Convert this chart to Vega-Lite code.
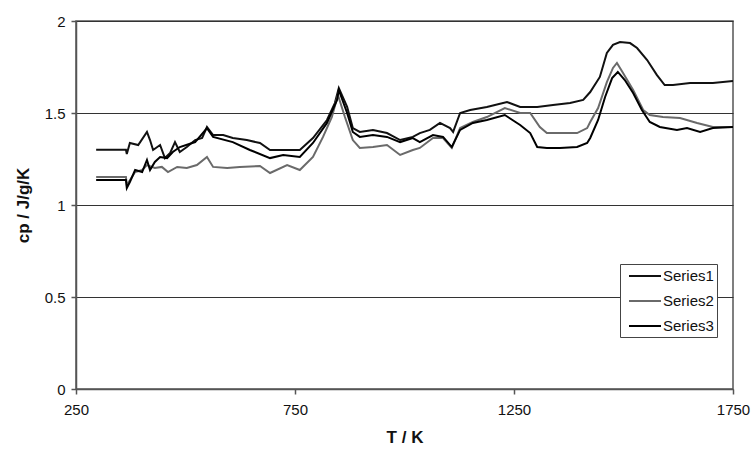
{
  "$schema": "https://vega.github.io/schema/vega-lite/v6.json",
  "width": 657,
  "height": 368,
  "autosize": {"type": "none"},
  "padding": {"left": 76, "top": 21, "right": 21, "bottom": 63},
  "background": "white",
  "config": {
    "font": "Liberation Sans",
    "view": {"stroke": "#555555", "strokeWidth": 1.5},
    "axis": {"labelFont": "Liberation Sans", "labelFontSize": 15, "labelColor": "#111111", "titleFont": "Liberation Sans", "titleFontSize": 17, "titleFontWeight": "bold", "titleColor": "#111111", "domainColor": "#555555", "domainWidth": 1.5, "tickColor": "#555555", "tickWidth": 1.5, "tickSize": 5}
  },
  "data": {"values": [
    {"s":"Series1","T":296,"cp":1.30},{"s":"Series1","T":364,"cp":1.30},{"s":"Series1","T":366,"cp":1.277},{"s":"Series1","T":373,"cp":1.337},{"s":"Series1","T":392,"cp":1.326},{"s":"Series1","T":412,"cp":1.397},{"s":"Series1","T":419,"cp":1.353},{"s":"Series1","T":426,"cp":1.299},{"s":"Series1","T":442,"cp":1.326},{"s":"Series1","T":453,"cp":1.255},{"s":"Series1","T":465,"cp":1.283},{"s":"Series1","T":476,"cp":1.342},{"s":"Series1","T":487,"cp":1.288},{"s":"Series1","T":503,"cp":1.315},{"s":"Series1","T":522,"cp":1.353},{"s":"Series1","T":538,"cp":1.364},{"s":"Series1","T":549,"cp":1.424},{"s":"Series1","T":563,"cp":1.380},{"s":"Series1","T":586,"cp":1.380},{"s":"Series1","T":608,"cp":1.364},{"s":"Series1","T":640,"cp":1.353},{"s":"Series1","T":670,"cp":1.337},{"s":"Series1","T":693,"cp":1.299},{"s":"Series1","T":723,"cp":1.299},{"s":"Series1","T":761,"cp":1.299},{"s":"Series1","T":791,"cp":1.364},{"s":"Series1","T":823,"cp":1.462},{"s":"Series1","T":841,"cp":1.554},{"s":"Series1","T":850,"cp":1.636},{"s":"Series1","T":869,"cp":1.533},{"s":"Series1","T":882,"cp":1.418},{"s":"Series1","T":898,"cp":1.397},{"s":"Series1","T":928,"cp":1.408},{"s":"Series1","T":960,"cp":1.391},{"s":"Series1","T":990,"cp":1.353},{"s":"Series1","T":1019,"cp":1.370},{"s":"Series1","T":1035,"cp":1.391},{"s":"Series1","T":1058,"cp":1.408},{"s":"Series1","T":1081,"cp":1.446},{"s":"Series1","T":1104,"cp":1.418},{"s":"Series1","T":1111,"cp":1.397},{"s":"Series1","T":1127,"cp":1.500},{"s":"Series1","T":1150,"cp":1.516},{"s":"Series1","T":1188,"cp":1.533},{"s":"Series1","T":1234,"cp":1.560},{"s":"Series1","T":1264,"cp":1.533},{"s":"Series1","T":1303,"cp":1.533},{"s":"Series1","T":1339,"cp":1.543},{"s":"Series1","T":1378,"cp":1.554},{"s":"Series1","T":1408,"cp":1.571},{"s":"Series1","T":1424,"cp":1.614},{"s":"Series1","T":1446,"cp":1.696},{"s":"Series1","T":1462,"cp":1.826},{"s":"Series1","T":1476,"cp":1.870},{"s":"Series1","T":1492,"cp":1.886},{"s":"Series1","T":1515,"cp":1.880},{"s":"Series1","T":1531,"cp":1.853},{"s":"Series1","T":1554,"cp":1.788},{"s":"Series1","T":1576,"cp":1.707},{"s":"Series1","T":1594,"cp":1.652},{"s":"Series1","T":1613,"cp":1.652},{"s":"Series1","T":1652,"cp":1.663},{"s":"Series1","T":1704,"cp":1.663},{"s":"Series1","T":1750,"cp":1.674},
    {"s":"Series2","T":296,"cp":1.152},{"s":"Series2","T":364,"cp":1.152},{"s":"Series2","T":366,"cp":1.109},{"s":"Series2","T":385,"cp":1.179},{"s":"Series2","T":401,"cp":1.190},{"s":"Series2","T":412,"cp":1.217},{"s":"Series2","T":430,"cp":1.201},{"s":"Series2","T":446,"cp":1.207},{"s":"Series2","T":460,"cp":1.179},{"s":"Series2","T":481,"cp":1.207},{"s":"Series2","T":503,"cp":1.201},{"s":"Series2","T":526,"cp":1.217},{"s":"Series2","T":549,"cp":1.261},{"s":"Series2","T":563,"cp":1.207},{"s":"Series2","T":595,"cp":1.201},{"s":"Series2","T":624,"cp":1.207},{"s":"Series2","T":670,"cp":1.212},{"s":"Series2","T":693,"cp":1.174},{"s":"Series2","T":732,"cp":1.217},{"s":"Series2","T":761,"cp":1.190},{"s":"Series2","T":791,"cp":1.261},{"s":"Series2","T":814,"cp":1.370},{"s":"Series2","T":834,"cp":1.478},{"s":"Series2","T":848,"cp":1.598},{"s":"Series2","T":864,"cp":1.478},{"s":"Series2","T":882,"cp":1.353},{"s":"Series2","T":898,"cp":1.310},{"s":"Series2","T":928,"cp":1.315},{"s":"Series2","T":960,"cp":1.326},{"s":"Series2","T":990,"cp":1.272},{"s":"Series2","T":1019,"cp":1.299},{"s":"Series2","T":1035,"cp":1.310},{"s":"Series2","T":1065,"cp":1.364},{"s":"Series2","T":1088,"cp":1.364},{"s":"Series2","T":1108,"cp":1.310},{"s":"Series2","T":1127,"cp":1.418},{"s":"Series2","T":1156,"cp":1.451},{"s":"Series2","T":1188,"cp":1.478},{"s":"Series2","T":1229,"cp":1.527},{"s":"Series2","T":1264,"cp":1.500},{"s":"Series2","T":1287,"cp":1.500},{"s":"Series2","T":1309,"cp":1.424},{"s":"Series2","T":1325,"cp":1.391},{"s":"Series2","T":1355,"cp":1.391},{"s":"Series2","T":1394,"cp":1.391},{"s":"Series2","T":1417,"cp":1.418},{"s":"Series2","T":1424,"cp":1.451},{"s":"Series2","T":1442,"cp":1.527},{"s":"Series2","T":1462,"cp":1.668},{"s":"Series2","T":1476,"cp":1.745},{"s":"Series2","T":1485,"cp":1.772},{"s":"Series2","T":1499,"cp":1.717},{"s":"Series2","T":1522,"cp":1.625},{"s":"Series2","T":1545,"cp":1.516},{"s":"Series2","T":1560,"cp":1.489},{"s":"Series2","T":1590,"cp":1.478},{"s":"Series2","T":1629,"cp":1.473},{"s":"Series2","T":1668,"cp":1.446},{"s":"Series2","T":1704,"cp":1.424},{"s":"Series2","T":1750,"cp":1.424},
    {"s":"Series3","T":296,"cp":1.136},{"s":"Series3","T":364,"cp":1.136},{"s":"Series3","T":366,"cp":1.092},{"s":"Series3","T":373,"cp":1.125},{"s":"Series3","T":385,"cp":1.190},{"s":"Series3","T":401,"cp":1.179},{"s":"Series3","T":412,"cp":1.245},{"s":"Series3","T":419,"cp":1.190},{"s":"Series3","T":430,"cp":1.234},{"s":"Series3","T":442,"cp":1.261},{"s":"Series3","T":458,"cp":1.255},{"s":"Series3","T":471,"cp":1.288},{"s":"Series3","T":487,"cp":1.315},{"s":"Series3","T":522,"cp":1.342},{"s":"Series3","T":549,"cp":1.418},{"s":"Series3","T":563,"cp":1.370},{"s":"Series3","T":608,"cp":1.342},{"s":"Series3","T":647,"cp":1.299},{"s":"Series3","T":693,"cp":1.255},{"s":"Series3","T":723,"cp":1.272},{"s":"Series3","T":761,"cp":1.261},{"s":"Series3","T":791,"cp":1.337},{"s":"Series3","T":823,"cp":1.446},{"s":"Series3","T":846,"cp":1.571},{"s":"Series3","T":850,"cp":1.625},{"s":"Series3","T":869,"cp":1.500},{"s":"Series3","T":882,"cp":1.397},{"s":"Series3","T":898,"cp":1.370},{"s":"Series3","T":928,"cp":1.380},{"s":"Series3","T":960,"cp":1.370},{"s":"Series3","T":990,"cp":1.342},{"s":"Series3","T":1019,"cp":1.364},{"s":"Series3","T":1035,"cp":1.342},{"s":"Series3","T":1065,"cp":1.380},{"s":"Series3","T":1088,"cp":1.370},{"s":"Series3","T":1108,"cp":1.315},{"s":"Series3","T":1127,"cp":1.408},{"s":"Series3","T":1156,"cp":1.446},{"s":"Series3","T":1188,"cp":1.462},{"s":"Series3","T":1229,"cp":1.489},{"s":"Series3","T":1264,"cp":1.435},{"s":"Series3","T":1287,"cp":1.391},{"s":"Series3","T":1303,"cp":1.315},{"s":"Series3","T":1325,"cp":1.310},{"s":"Series3","T":1355,"cp":1.310},{"s":"Series3","T":1394,"cp":1.315},{"s":"Series3","T":1417,"cp":1.337},{"s":"Series3","T":1424,"cp":1.364},{"s":"Series3","T":1442,"cp":1.462},{"s":"Series3","T":1458,"cp":1.587},{"s":"Series3","T":1474,"cp":1.690},{"s":"Series3","T":1487,"cp":1.723},{"s":"Series3","T":1503,"cp":1.679},{"s":"Series3","T":1522,"cp":1.609},{"s":"Series3","T":1542,"cp":1.516},{"s":"Series3","T":1560,"cp":1.451},{"s":"Series3","T":1583,"cp":1.424},{"s":"Series3","T":1622,"cp":1.408},{"s":"Series3","T":1645,"cp":1.418},{"s":"Series3","T":1675,"cp":1.397},{"s":"Series3","T":1704,"cp":1.418},{"s":"Series3","T":1750,"cp":1.424}
  ]},
  "mark": {"type": "line", "strokeWidth": 2, "clip": true},
  "encoding": {
    "x": {"field": "T", "type": "quantitative", "scale": {"domain": [250, 1750], "nice": false, "zero": false}, "axis": {"title": "T / K", "values": [250, 750, 1250, 1750], "format": "d", "grid": false, "labelPadding": 8, "titlePadding": 12, "labelFlush": false}},
    "y": {"field": "cp", "type": "quantitative", "scale": {"domain": [0, 2], "nice": false}, "axis": {"title": "cp / J/g/K", "values": [0, 0.5, 1, 1.5, 2], "format": "~g", "grid": true, "gridColor": "#333333", "gridWidth": 1.2, "gridOpacity": 1, "labelPadding": 6, "titlePadding": 12, "labelFlush": false}},
    "color": {"field": "s", "type": "nominal", "scale": {"domain": ["Series1", "Series2", "Series3"], "range": ["#111111", "#6a6a6a", "#000000"]}, "legend": {"title": null, "orient": "none", "legendX": 544, "legendY": 243, "symbolType": "M-0.375,0H3.625", "symbolSize": 256, "symbolStrokeWidth": 2, "symbolFillColor": "transparent", "labelFontSize": 15, "labelColor": "#111111", "labelOffset": 22, "rowPadding": 8, "padding": 3, "fillColor": "white", "strokeColor": "#444444"}}
  }
}
